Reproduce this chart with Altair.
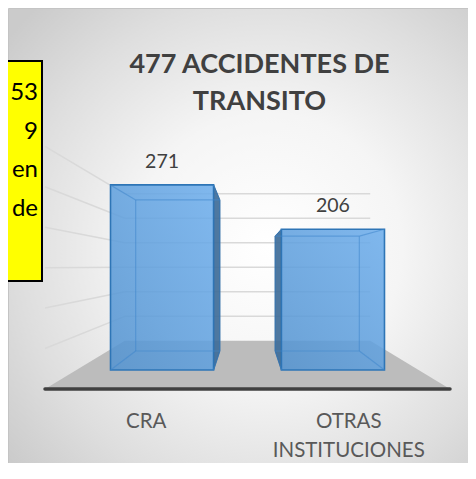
import altair as alt
import pandas as pd

# ---------------- data ----------------
categories = ["CRA", "OTRAS INSTITUCIONES"]
category_lines = ["CRA", "OTRAS\nINSTITUCIONES"]
values = [271, 206]
grid_values = [50, 100, 150, 200, 250, 300]
title_text = "477 ACCIDENTES DE\nTRANSITO"
note_text = "53\n9\nen\nde"

# ---------------- scene / style ----------------
W, H = 460, 455
BAND_PX = 202.5          # width of one category band on the floor's front edge
FLOOR_LEFT = 37.0        # floor front-left corner (view px)
FLOOR_Y = 381.0          # floor front edge (view px)
PX_PER_UNIT = 0.809      # pixels per value unit on the front plane
EYE_V = 151.0            # eye level, in value units
S_FRONT, S_BAR_F, S_BAR_B, S_BACK = 1.0, 0.844, 0.689, 0.606   # perspective depth factors
BAR_W = 0.603            # bar width as a share of a band

FONT = "Lato"


def px(X, s):
    return 1 + (X - 1) * s


def py(V, s):
    return EYE_V - (EYE_V - V) * s


x_scale = alt.Scale(domain=[-FLOOR_LEFT / BAND_PX, (W - FLOOR_LEFT) / BAND_PX], nice=False, zero=False)
y_scale = alt.Scale(domain=[-(H - FLOOR_Y) / PX_PER_UNIT, FLOOR_Y / PX_PER_UNIT], nice=False, zero=False)


def X(f):
    return alt.X(f, type="quantitative", scale=x_scale, axis=None)


def Y(f):
    return alt.Y(f, type="quantitative", scale=y_scale, axis=None, stack=None)


one = pd.DataFrame({"k": [0]})

# background with radial gradient
background = alt.Chart(one).mark_rect(
    fill={
        "gradient": "radial",
        "x1": 0.56, "y1": 0.52, "r1": 0,
        "x2": 0.56, "y2": 0.52, "r2": 0.72,
        "stops": [
            {"offset": 0, "color": "#ffffff"},
            {"offset": 0.4, "color": "#f5f5f5"},
            {"offset": 0.75, "color": "#dedede"},
            {"offset": 1, "color": "#cbcbcb"},
        ],
    },
    stroke="#c4c4c4",
    strokeWidth=1,
).encode(x=alt.value(0.5), x2=alt.value(W + 5), y=alt.value(0.5), y2=alt.value(H + 5))

# wall grid lines (back wall + left wall)
wall_rows = []
for g in grid_values:
    wall_rows.append(dict(x=px(0, S_BACK), y=py(g, S_BACK), x2=px(2, S_BACK), y2=py(g, S_BACK)))
    wall_rows.append(dict(x=px(0, S_BACK), y=py(g, S_BACK), x2=px(0, S_FRONT), y2=py(g, S_FRONT)))
walls = alt.Chart(pd.DataFrame(wall_rows)).mark_rule(color="#d9d9d9", strokeWidth=1.5).encode(
    x=X("x"), y=Y("y"), x2=alt.X2("x2"), y2=alt.Y2("y2")
)

# floor
floor_df = pd.DataFrame([
    dict(y=py(0, S_FRONT), x=px(0, S_FRONT), x2=px(2, S_FRONT)),
    dict(y=py(0, S_BACK), x=px(0, S_BACK), x2=px(2, S_BACK)),
])
floor = alt.Chart(floor_df).mark_area(orient="horizontal", color="#bcbcbc").encode(
    y=Y("y"), x=alt.X("x", type="quantitative", scale=x_scale, axis=None, stack=None), x2=alt.X2("x2")
)
floor_edge = alt.Chart(pd.DataFrame([dict(x=px(0, 1), x2=px(2, 1), y=py(0, 1))])).mark_rule(
    color="#404040", strokeWidth=3.5, strokeCap="round"
).encode(x=X("x"), x2=alt.X2("x2"), y=Y("y"))

# bars
front_rows, side_rows, edge_rows, label_rows, cat_rows = [], [], [], [], []
for i, (c, v) in enumerate(zip(categories, values)):
    xc = i + 0.5
    xl, xr = xc - BAR_W / 2, xc + BAR_W / 2
    f = dict(l=px(xl, S_BAR_F), r=px(xr, S_BAR_F), t=py(v, S_BAR_F), b=py(0, S_BAR_F))
    k = dict(l=px(xl, S_BAR_B), r=px(xr, S_BAR_B), t=py(v, S_BAR_B), b=py(0, S_BAR_B))
    front_rows.append(dict(bar=c, x=f["l"], x2=f["r"], y=f["b"], y2=f["t"]))
    side = "r" if xc < 1 else "l"
    # closed outline of the visible side face
    for o, (hx, vy) in enumerate([(f[side], f["t"]), (k[side], k["t"]), (k[side], k["b"]), (f[side], f["b"])]):
        side_rows.append(dict(bar=c, o=o, x=hx, y=vy))
    # back face edges
    edge_rows.append(dict(x=k["l"], y=k["t"], x2=k["r"], y2=k["t"]))
    edge_rows.append(dict(x=k["l"], y=k["b"], x2=k["r"], y2=k["b"]))
    edge_rows.append(dict(x=k["l"], y=k["t"], x2=k["l"], y2=k["b"]))
    edge_rows.append(dict(x=k["r"], y=k["t"], x2=k["r"], y2=k["b"]))
    # depth edges
    for hx in ("l", "r"):
        for vy in ("t", "b"):
            edge_rows.append(dict(x=f[hx], y=f[vy], x2=k[hx], y2=k[vy]))
    label_rows.append(dict(x=px(xc, S_BAR_F), y=f["t"], text=str(v)))
    cat_rows.append(dict(x=px(xc, S_FRONT), y=py(0, S_FRONT), text=category_lines[i]))

side_faces = alt.Chart(pd.DataFrame(side_rows)).mark_line(
    interpolate="linear-closed", fill="#3f6d98", fillOpacity=0.92, stroke="#2c5a86", strokeWidth=1
).encode(x=X("x"), y=Y("y"), detail="bar:N", order="o:Q")

front_faces = alt.Chart(pd.DataFrame(front_rows)).mark_rect(
    fill={
        "gradient": "linear", "x1": 0, "y1": 1, "x2": 1, "y2": 0,
        "stops": [{"offset": 0, "color": "#5393d0"}, {"offset": 1, "color": "#6cadec"}],
    },
    fillOpacity=0.86,
    stroke="#2e75b6",
    strokeWidth=1.6,
).encode(x=X("x"), x2=alt.X2("x2"), y=Y("y"), y2=alt.Y2("y2"))

inner_edges = alt.Chart(pd.DataFrame(edge_rows)).mark_rule(
    color="#3f86cc", strokeWidth=1.2, opacity=0.55
).encode(x=X("x"), y=Y("y"), x2=alt.X2("x2"), y2=alt.Y2("y2"))

value_labels = alt.Chart(pd.DataFrame(label_rows)).mark_text(
    font=FONT, fontSize=19.5, color="#404040", dy=-17, baseline="alphabetic", align="center"
).encode(x=X("x"), y=Y("y"), text="text:N")

cat_labels = alt.Chart(pd.DataFrame(cat_rows)).mark_text(
    font=FONT, fontSize=20.5, color="#595959", dy=39, baseline="alphabetic", align="center",
    lineBreak="\n", lineHeight=29
).encode(x=X("x"), y=Y("y"), text="text:N")

title = alt.Chart(pd.DataFrame({"t": [title_text]})).mark_text(
    font=FONT, fontSize=27, fontWeight="bold", color="#404040", baseline="alphabetic",
    align="center", lineBreak="\n", lineHeight=37.4
).encode(x=alt.value(251.5), y=alt.value(64.7), text="t:N")

note_box = alt.Chart(one).mark_rect(fill="#ffff00", stroke="#000000", strokeWidth=2).encode(
    x=alt.value(-3), x2=alt.value(34), y=alt.value(53), y2=alt.value(273)
)
note = alt.Chart(pd.DataFrame({"t": [note_text]})).mark_text(
    font=FONT, fontSize=24, color="#000000", baseline="alphabetic", align="right",
    lineBreak="\n", lineHeight=38.5
).encode(x=alt.value(30), y=alt.value(92), text="t:N")

chart = alt.layer(
    background, walls, floor, floor_edge, side_faces, front_faces, inner_edges,
    value_labels, cat_labels, title, note_box, note
).properties(
    width=W, height=H, padding=0, autosize="none", background="white"
).configure_view(stroke=None)

chart.save("out.html", embed_options={"renderer": "svg", "actions": False})
